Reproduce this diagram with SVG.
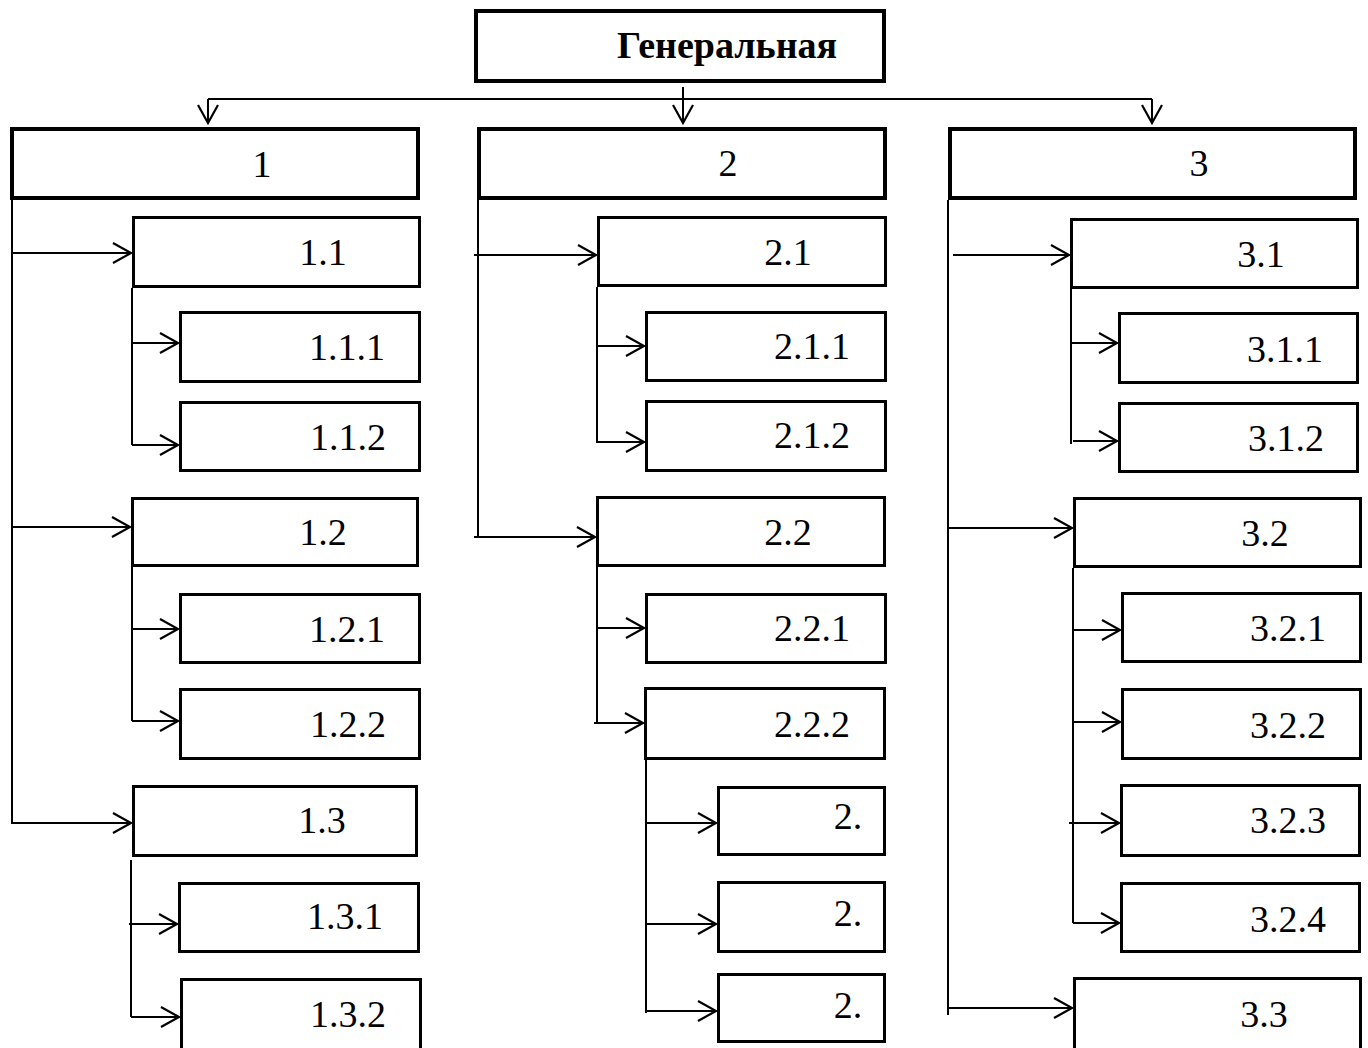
<svg xmlns="http://www.w3.org/2000/svg" width="1368" height="1048" viewBox="0 0 1368 1048">
<style>
.b{fill:#fff;stroke:#000;stroke-width:3}
.B{fill:#fff;stroke:#000;stroke-width:4}
.t{font-family:"Liberation Serif","Times New Roman",serif;font-size:38px;fill:#000;text-anchor:middle}
.g{font-weight:bold;font-size:38px}
.c path{fill:none;stroke:#000;stroke-width:2}
.c path.a{marker-end:url(#ar)}
</style>
<defs>
<marker id="ar" markerUnits="userSpaceOnUse" markerWidth="24" markerHeight="24" viewBox="-21 -12 24 24" refX="0" refY="0" orient="auto">
<path d="M-18,-10 L0,0 L-18,10" fill="none" stroke="#000" stroke-width="2.2"/>
</marker>
</defs>
<rect width="1368" height="1048" fill="#fff"/>
<g class="c" id="connectors">
<path d="M208,99 H1152"/>
<path class="a" d="M683,87 V123"/>
<path class="a" d="M208,99 V123"/>
<path class="a" d="M1152,99 V123"/>
<path d="M12,200 V824"/>
<path class="a" d="M12,253 H131"/>
<path class="a" d="M12,527 H130"/>
<path class="a" d="M12,823 H131"/>
<path d="M132,288 V445"/>
<path class="a" d="M132,343 H178"/>
<path class="a" d="M132,445 H178"/>
<path d="M132,567 V721"/>
<path class="a" d="M132,629 H178"/>
<path class="a" d="M132,721 H178"/>
<path d="M131,860 V1017"/>
<path class="a" d="M129,924 H177"/>
<path class="a" d="M131,1017 H179"/>
<path d="M478,200 V537"/>
<path class="a" d="M474,255 H596"/>
<path class="a" d="M474,537 H595"/>
<path d="M597,287 V443"/>
<path class="a" d="M597,346 H644"/>
<path class="a" d="M597,442 H644"/>
<path d="M597,567 V723"/>
<path class="a" d="M597,628 H644"/>
<path class="a" d="M594,723 H643"/>
<path d="M646,760 V1013"/>
<path class="a" d="M646,823 H716"/>
<path class="a" d="M646,924 H716"/>
<path class="a" d="M646,1011 H716"/>
<path d="M948,200 V1015"/>
<path class="a" d="M953,255 H1069"/>
<path class="a" d="M948,528 H1072"/>
<path class="a" d="M948,1008 H1072"/>
<path d="M1071,289 V444"/>
<path class="a" d="M1072,343 H1117"/>
<path class="a" d="M1073,441 H1117"/>
<path d="M1073,568 V923"/>
<path class="a" d="M1073,630 H1120"/>
<path class="a" d="M1073,722 H1120"/>
<path class="a" d="M1069,823 H1119"/>
<path class="a" d="M1073,923 H1119"/>
</g>
<g id="n-gen"><rect class="B" x="476" y="11" width="408" height="70"/><text class="t g" x="727" y="58">Генеральная</text></g>
<g id="n-1"><rect class="B" x="12" y="129" width="406" height="69"/><text class="t" x="262" y="177">1</text></g>
<g id="n-2"><rect class="B" x="479" y="129" width="406" height="69"/><text class="t" x="728" y="176">2</text></g>
<g id="n-3"><rect class="B" x="950" y="129" width="405" height="69"/><text class="t" x="1199" y="176">3</text></g>
<g id="n-1-1"><rect class="b" x="133.5" y="217.5" width="286" height="69"/><text class="t" x="323" y="265">1.1</text></g>
<g id="n-1-1-1"><rect class="b" x="180.5" y="312.5" width="239" height="69"/><text class="t" x="347" y="360">1.1.1</text></g>
<g id="n-1-1-2"><rect class="b" x="180.5" y="402.5" width="239" height="68"/><text class="t" x="348" y="450">1.1.2</text></g>
<g id="n-1-2"><rect class="b" x="132.5" y="498.5" width="285" height="67"/><text class="t" x="323" y="545">1.2</text></g>
<g id="n-1-2-1"><rect class="b" x="180.5" y="594.5" width="239" height="68"/><text class="t" x="347" y="642">1.2.1</text></g>
<g id="n-1-2-2"><rect class="b" x="180.5" y="689.5" width="239" height="69"/><text class="t" x="348" y="737">1.2.2</text></g>
<g id="n-1-3"><rect class="b" x="133.5" y="786.5" width="283" height="69"/><text class="t" x="322" y="833">1.3</text></g>
<g id="n-1-3-1"><rect class="b" x="179.5" y="883.5" width="239" height="68"/><text class="t" x="345" y="929">1.3.1</text></g>
<g id="n-1-3-2"><rect class="b" x="181.5" y="979.5" width="239" height="72"/><text class="t" x="348" y="1027">1.3.2</text></g>
<g id="n-2-1"><rect class="b" x="598.5" y="217.5" width="287" height="68"/><text class="t" x="788" y="265">2.1</text></g>
<g id="n-2-1-1"><rect class="b" x="646.5" y="312.5" width="239" height="68"/><text class="t" x="812" y="359">2.1.1</text></g>
<g id="n-2-1-2"><rect class="b" x="646.5" y="401.5" width="239" height="69"/><text class="t" x="812" y="448">2.1.2</text></g>
<g id="n-2-2"><rect class="b" x="597.5" y="497.5" width="287" height="68"/><text class="t" x="788" y="545">2.2</text></g>
<g id="n-2-2-1"><rect class="b" x="646.5" y="594.5" width="239" height="68"/><text class="t" x="812" y="641">2.2.1</text></g>
<g id="n-2-2-2"><rect class="b" x="645.5" y="688.5" width="239" height="70"/><text class="t" x="812" y="737">2.2.2</text></g>
<g id="n-2-2-2-a"><rect class="b" x="718.5" y="787.5" width="166" height="67"/><text class="t" x="848" y="829">2.</text></g>
<g id="n-2-2-2-b"><rect class="b" x="718.5" y="882.5" width="166" height="69"/><text class="t" x="848" y="926">2.</text></g>
<g id="n-2-2-2-c"><rect class="b" x="718.5" y="974.5" width="166" height="67"/><text class="t" x="848" y="1018">2.</text></g>
<g id="n-3-1"><rect class="b" x="1071.5" y="219.5" width="286" height="68"/><text class="t" x="1261" y="267">3.1</text></g>
<g id="n-3-1-1"><rect class="b" x="1119.5" y="313.5" width="238" height="69"/><text class="t" x="1285" y="362">3.1.1</text></g>
<g id="n-3-1-2"><rect class="b" x="1119.5" y="403.5" width="238" height="68"/><text class="t" x="1286" y="451">3.1.2</text></g>
<g id="n-3-2"><rect class="b" x="1074.5" y="498.5" width="286" height="68"/><text class="t" x="1265" y="546">3.2</text></g>
<g id="n-3-2-1"><rect class="b" x="1122.5" y="593.5" width="238" height="68"/><text class="t" x="1288" y="641">3.2.1</text></g>
<g id="n-3-2-2"><rect class="b" x="1122.5" y="689.5" width="238" height="69"/><text class="t" x="1288" y="738">3.2.2</text></g>
<g id="n-3-2-3"><rect class="b" x="1121.5" y="785.5" width="238" height="70"/><text class="t" x="1288" y="833">3.2.3</text></g>
<g id="n-3-2-4"><rect class="b" x="1121.5" y="883.5" width="238" height="68"/><text class="t" x="1288" y="932">3.2.4</text></g>
<g id="n-3-3"><rect class="b" x="1074.5" y="978.5" width="286" height="72"/><text class="t" x="1264" y="1027">3.3</text></g>
</svg>
